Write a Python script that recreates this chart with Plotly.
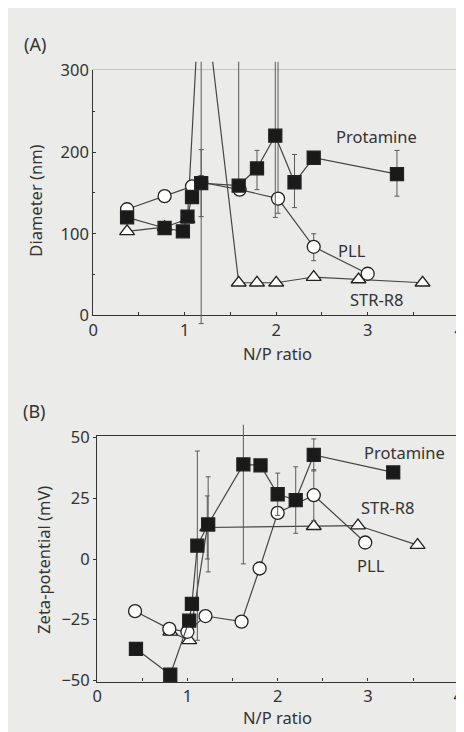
import plotly.graph_objects as go

W, H = 464, 732

# ---------------- Data: panel (A) Diameter (nm) ----------------
a_prot_x = [0.37, 0.78, 0.98, 1.03, 1.08, 1.18, 1.59, 1.79, 1.99, 2.20, 2.41, 3.32]
a_prot_y = [120, 107, 103, 121, 145, 162, 159, 180, 220, 163, 193, 173]
a_prot_err_plus = [0, 0, 0, 0, 0, 41, 200, 22, 150, 34, 0, 29]
a_prot_err_minus = [0, 0, 0, 0, 0, 41, 0, 26, 100, 31, 0, 27]

a_pll_x = [0.37, 0.78, 1.08, 1.18, 1.60, 2.02, 2.41, 3.00]
a_pll_y = [130, 146, 158, 163, 154, 143, 84, 51]
a_pll_err_plus = [0, 0, 0, 0, 0, 200, 16, 0]
a_pll_err_minus = [0, 0, 0, 0, 0, 18, 17, 0]

a_str_x = [0.37, 0.78, 1.03, 1.18, 1.59, 1.79, 2.00, 2.41, 2.90, 3.60]
a_str_y = [103, 108, 118, 430, 40, 40, 40, 47, 44, 40]
a_str_err = [0, 0, 0, 440, 0, 0, 0, 0, 0, 0]

# ---------------- Data: panel (B) Zeta-potential (mV) ----------------
b_prot_x = [0.43, 0.81, 1.02, 1.05, 1.11, 1.23, 1.62, 1.81, 2.00, 2.20, 2.40, 3.28]
b_prot_y = [-37, -47.7, -25.4, -18.5, 5.5, 14.3, 39, 38.6, 26.7, 24.3, 42.9, 35.7]
b_prot_err = [0, 0, 0, 0, 39, 19.6, 41, 0, 8.7, 13.7, 6.6, 0]

b_pll_x = [0.42, 0.80, 1.00, 1.20, 1.60, 1.80, 2.00, 2.40, 2.97]
b_pll_y = [-21.5, -28.8, -30, -23.5, -25.8, -3.9, 19, 26.3, 6.8]
b_pll_err = [0, 0, 0, 0, 0, 0, 0, 10.5, 0]

b_str_x = [0.81, 1.02, 1.22, 2.40, 2.89, 3.55]
b_str_y = [-30, -33.5, 13, 13.5, 13.8, 5.7]
b_str_err = [0, 0, 13, 0, 0, 0]

x_ticks = [0, 1, 2, 3, 4]
a_y_ticks = [0, 100, 200, 300]
b_y_ticks = [-50, -25, 0, 25, 50]

# ---------------- Styles ----------------
BG = "#ebebe9"
INK = "#333333"
LINE = "#454545"
ERR = "#5a5a5a"
FONT = "Noto Sans"
MS = 13
FS = 16.5


def fx(px):
    return px / W


def fy(py):
    return 1 - py / H


def err(plus, minus=None):
    d = dict(type="data", array=plus, color=ERR, thickness=1, width=2.5, visible=True)
    if minus is not None:
        d["symmetric"] = False
        d["arrayminus"] = minus
    return d


fig = go.Figure()

# empty traces so the visible axes are drawn
fig.add_trace(go.Scatter(x=[], y=[], xaxis="x", yaxis="y", showlegend=False))
fig.add_trace(go.Scatter(x=[], y=[], xaxis="x5", yaxis="y", showlegend=False))
fig.add_trace(go.Scatter(x=[], y=[], xaxis="x2", yaxis="y2", showlegend=False))


def series(x, y, symbol, fill, e, xa, ya):
    fig.add_trace(go.Scatter(
        x=x, y=y, mode="lines+markers", xaxis=xa, yaxis=ya,
        line=dict(color=LINE, width=1.2),
        marker=dict(symbol=symbol, size=MS, color=fill,
                    line=dict(color="#222222", width=1.3)),
        error_y=e, cliponaxis=False, showlegend=False,
    ))


# Panel A (drawn on slightly extended invisible axes so lines overshoot like the original)
series(a_str_x, a_str_y, "triangle-up", "white", err(a_str_err), "x3", "y3")
series(a_pll_x, a_pll_y, "circle", "white", err(a_pll_err_plus, a_pll_err_minus), "x3", "y3")
series(a_prot_x, a_prot_y, "square", "#1a1a1a", err(a_prot_err_plus, a_prot_err_minus), "x3", "y3")

# Panel B
series(b_str_x, b_str_y, "triangle-up", "white", err(b_str_err), "x4", "y4")
series(b_pll_x, b_pll_y, "circle", "white", err(b_pll_err), "x4", "y4")
series(b_prot_x, b_prot_y, "square", "#1a1a1a", err(b_prot_err), "x4", "y4")

tickfont = dict(family=FONT, size=FS, color=INK)

common_x = dict(range=[0, 4], tickvals=x_ticks, showgrid=False, zeroline=False,
                showline=True, linecolor=INK, linewidth=1.2, ticks="inside", ticklen=3,
                tickcolor=INK, tickfont=tickfont,
                minor=dict(dtick=0.5, ticks="inside", ticklen=3, tickcolor=INK))

a_y_scale = (305 - 52) / 300.0
b_y_scale = (683 - 430) / 101.0
AX = [82, 456]
BX = [86, 455]

fig.update_layout(
    width=W, height=H,
    margin=dict(l=0, r=0, t=0, b=0),
    paper_bgcolor=BG, plot_bgcolor="rgba(0,0,0,0)",
    font=dict(family=FONT, color=INK),
    xaxis=dict(domain=[fx(AX[0]), fx(AX[1])], anchor="y", **common_x),
    yaxis=dict(domain=[fy(305), fy(52)], anchor="x", range=[0, 300], tickvals=a_y_ticks,
               showgrid=False, zeroline=False, showline=True, linecolor=INK, linewidth=1.2,
               ticks="inside", ticklen=3, tickcolor=INK, tickfont=tickfont,
               minor=dict(dtick=50, ticks="inside", ticklen=2, tickcolor=INK)),
    xaxis5=dict(overlaying="x", side="top", anchor="y", range=[0, 4], showline=True,
                linecolor="#c4c4c2", linewidth=1, showticklabels=False, ticks="",
                showgrid=False, zeroline=False),
    xaxis3=dict(domain=[fx(AX[0]), fx(AX[1])], anchor="y3", range=[0, 4], visible=False),
    yaxis3=dict(domain=[fy(315), fy(43)], anchor="x3",
                range=[-(315 - 305) / a_y_scale, 300 + (52 - 43) / a_y_scale], visible=False),
    xaxis2=dict(domain=[fx(BX[0]), fx(BX[1])], anchor="y2", mirror=True, **common_x),
    yaxis2=dict(domain=[fy(683), fy(430)], anchor="x2", range=[-50.5, 50.5], tickvals=b_y_ticks,
                showgrid=False, zeroline=False, showline=True, mirror=True, linecolor=INK,
                linewidth=1.2, ticks="outside", ticklen=3, tickcolor=INK, tickfont=tickfont),
    xaxis4=dict(domain=[fx(BX[0]), fx(BX[1])], anchor="y4", range=[0, 4], visible=False),
    yaxis4=dict(domain=[fy(690), fy(418)], anchor="x4",
                range=[-50.5 - (690 - 683) / b_y_scale, 50.5 + (430 - 418) / b_y_scale], visible=False),
)

lab = dict(family=FONT, size=FS, color=INK)
C = dict(showarrow=False, xanchor="center", yanchor="middle")
ann = [
    dict(text="(A)", x=fx(22), y=fy(25), xref="paper", yref="paper",
         font=dict(family=FONT, size=18, color=INK), **C),
    dict(text="(B)", x=fx(22), y=fy(404), xref="paper", yref="paper",
         font=dict(family=FONT, size=18, color=INK), **C),
    dict(text="Diameter (nm)", x=fx(23), y=fy(187), xref="paper", yref="paper",
         textangle=-90, font=lab, **C),
    dict(text="N/P ratio", x=fx(270), y=fy(344), xref="paper", yref="paper", font=lab, **C),
    dict(text="Zeta-potential (mV)", x=fx(31), y=fy(557), xref="paper", yref="paper",
         textangle=-90, font=lab, **C),
    dict(text="N/P ratio", x=fx(270), y=fy(720), xref="paper", yref="paper", font=lab, **C),
    # series labels
    dict(text="Protamine", x=3.1, y=219, xref="x", yref="y", font=lab, **C),
    dict(text="PLL", x=2.83, y=79, xref="x", yref="y", font=lab, **C),
    dict(text="STR-R8", x=3.1, y=20, xref="x", yref="y", font=lab, **C),
    dict(text="Protamine", x=3.4, y=44, xref="x2", yref="y2", font=lab, **C),
    dict(text="STR-R8", x=3.22, y=21.4, xref="x2", yref="y2", font=lab, **C),
    dict(text="PLL", x=3.03, y=-2.6, xref="x2", yref="y2", font=lab, **C),
]
fig.update_layout(annotations=ann)

fig.write_html("out.html")
